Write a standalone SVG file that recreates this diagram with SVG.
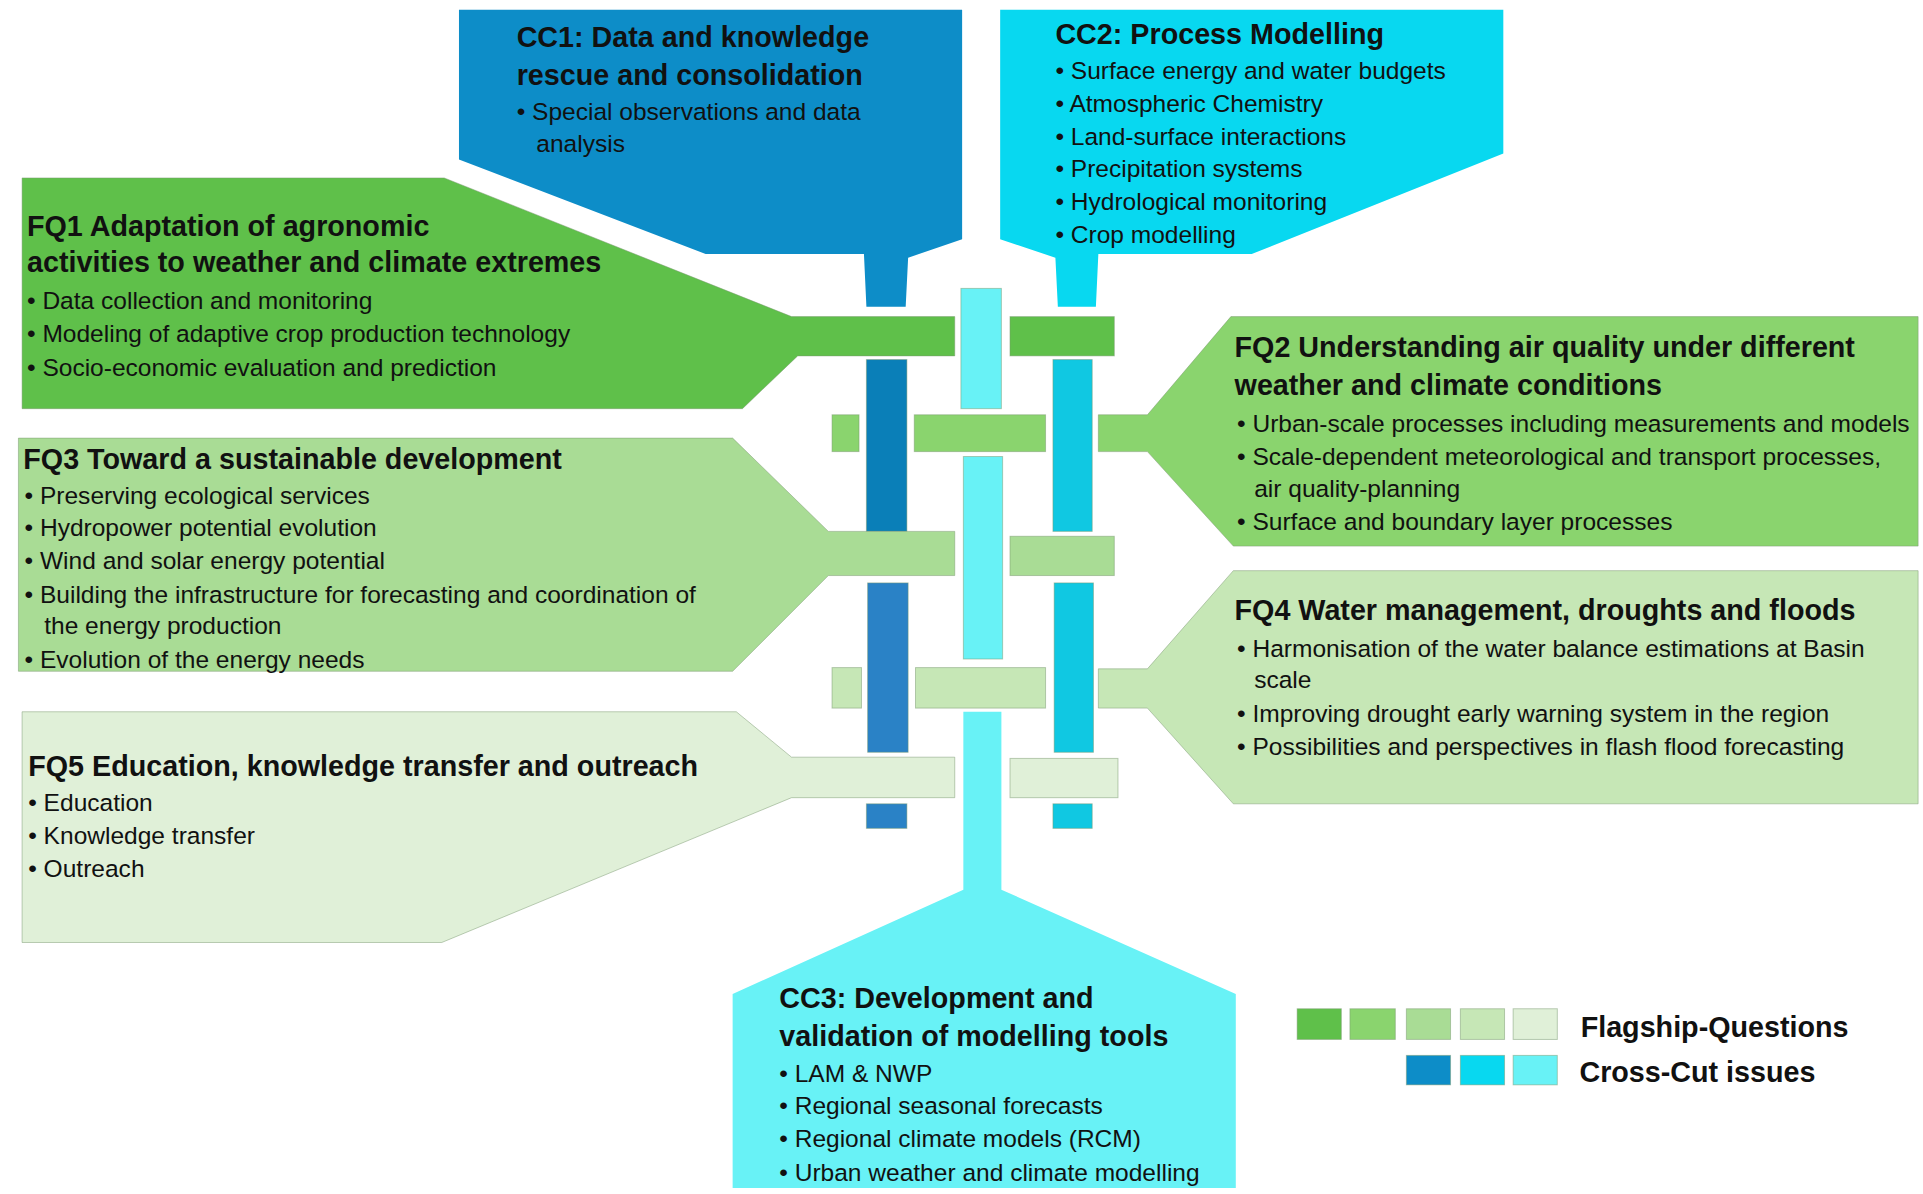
<svg xmlns="http://www.w3.org/2000/svg" width="1923" height="1194" viewBox="0 0 1923 1194">
<style>
text{font-family:"Liberation Sans",Arial,sans-serif;fill:#111}
.h{font-size:23.4px;font-weight:bold}
.b{font-size:20px}
.cc1{fill:#0d8dc8}.cc1d{fill:#0a7fb8}.cc1e{fill:#2a82c6}
.cc2{fill:#08d8f0}.cc2d{fill:#10c8e2}
.cc3{fill:#68f2f6}
.g1{fill:#5fc04a}.g2{fill:#8ad46e}.g3{fill:#a9dc95}.g4{fill:#c6e7b6}.g5{fill:#e0f0d8}
.ed{stroke:#7a9a70;stroke-width:0.8;stroke-opacity:0.5}
</style>
<rect width="1923" height="1194" fill="#fff"/>
<g transform="scale(1.2272)">
<g id="cc3-bars">
<rect class="cc3 ed" x="783" y="235" width="33" height="98"/>
<rect class="cc3 ed" x="785" y="372" width="32" height="165"/>
</g>
<g id="cc1-bars">
<rect class="cc1d ed" x="706" y="293" width="33" height="140"/>
<rect class="cc1e ed" x="707" y="475" width="33" height="138"/>
<rect class="cc1e ed" x="706" y="655" width="33" height="20"/>
</g>
<g id="cc2-bars">
<rect class="cc2d ed" x="858" y="293" width="32" height="140"/>
<rect class="cc2d ed" x="859" y="475" width="32" height="138"/>
<rect class="cc2d ed" x="858" y="655" width="32" height="20"/>
</g>
<g id="CC1">
<polygon class="cc1" points="374,8 784,8 784,195 740,210 738,250 706,250 704,207 575,207 374,130"/>
<text class="h" x="421" y="38">CC1: Data and knowledge</text>
<text class="h" x="421" y="69">rescue and consolidation</text>
<text class="b" x="421" y="98">• Special observations and data</text>
<text class="b" x="437" y="124">analysis</text>
</g>
<g id="CC2">
<polygon class="cc2" points="815,8 1225,8 1225,125 1020,207 895,207 893,250 862,250 860,210 815,195"/>
<text class="h" x="860" y="36">CC2: Process Modelling</text>
<text class="b" x="860" y="64">• Surface energy and water budgets</text>
<text class="b" x="860" y="91">• Atmospheric Chemistry</text>
<text class="b" x="860" y="118">• Land-surface interactions</text>
<text class="b" x="860" y="144">• Precipitation systems</text>
<text class="b" x="860" y="171">• Hydrological monitoring</text>
<text class="b" x="860" y="198">• Crop modelling</text>
</g>
<g id="FQ1">
<polygon class="g1 ed" points="18,145 362,145 645,258 778,258 778,290 650,290 605,333 18,333"/>
<rect class="g1 ed" x="823" y="258" width="85" height="32"/>
<text class="h" x="22" y="192">FQ1 Adaptation of agronomic</text>
<text class="h" x="22" y="222">activities to weather and climate extremes</text>
<text class="b" x="22" y="252">• Data collection and monitoring</text>
<text class="b" x="22" y="279">• Modeling of adaptive crop production technology</text>
<text class="b" x="22" y="306">• Socio-economic evaluation and prediction</text>
</g>
<g id="FQ2">
<polygon class="g2 ed" points="1563,258 1003,258 935,338 895,338 895,368 935,368 1005,445 1563,445"/>
<rect class="g2 ed" x="678" y="338" width="22" height="30"/>
<rect class="g2 ed" x="745" y="338" width="107" height="30"/>
<text class="h" x="1006" y="291">FQ2 Understanding air quality under different</text>
<text class="h" x="1006" y="322">weather and climate conditions</text>
<text class="b" x="1008" y="352">• Urban-scale processes including measurements and models</text>
<text class="b" x="1008" y="379">• Scale-dependent meteorological and transport processes,</text>
<text class="b" x="1022" y="405">air quality-planning</text>
<text class="b" x="1008" y="432">• Surface and boundary layer processes</text>
</g>
<g id="FQ3">
<polygon class="g3 ed" points="15,357 597,357 675,433 778,433 778,469 675,469 597,547 15,547"/>
<rect class="g3 ed" x="823" y="437" width="85" height="32"/>
<text class="h" x="19" y="382">FQ3 Toward a sustainable development</text>
<text class="b" x="20" y="411">• Preserving ecological services</text>
<text class="b" x="20" y="437">• Hydropower potential evolution</text>
<text class="b" x="20" y="464">• Wind and solar energy potential</text>
<text class="b" x="20" y="491">• Building the infrastructure for forecasting and coordination of</text>
<text class="b" x="36" y="517">the energy production</text>
<text class="b" x="20" y="544">• Evolution of the energy needs</text>
</g>
<g id="FQ4">
<polygon class="g4 ed" points="1563,465 1005,465 935,545 895,545 895,577 935,577 1005,655 1563,655"/>
<rect class="g4 ed" x="678" y="544" width="24" height="33"/>
<rect class="g4 ed" x="746" y="544" width="106" height="33"/>
<text class="h" x="1006" y="505">FQ4 Water management, droughts and floods</text>
<text class="b" x="1008" y="535">• Harmonisation of the water balance estimations at Basin</text>
<text class="b" x="1022" y="561">scale</text>
<text class="b" x="1008" y="588">• Improving drought early warning system in the region</text>
<text class="b" x="1008" y="615">• Possibilities and perspectives in flash flood forecasting</text>
</g>
<g id="CC3">
<polygon class="cc3" points="785,580 816,580 816,725 1007,810 1007,968 597,968 597,810 785,725"/>
<text class="h" x="635" y="821">CC3: Development and</text>
<text class="h" x="635" y="852">validation of modelling tools</text>
<text class="b" x="635" y="882">• LAM &amp; NWP</text>
<text class="b" x="635" y="908">• Regional seasonal forecasts</text>
<text class="b" x="635" y="935">• Regional climate models (RCM)</text>
<text class="b" x="635" y="962">• Urban weather and climate modelling</text>
</g>
<g id="FQ5">
<polygon class="g5 ed" points="18,580 600,580 645,617 778,617 778,650 645,650 360,768 18,768"/>
<rect class="g5 ed" x="823" y="618" width="88" height="32"/>
<text class="h" x="23" y="632">FQ5 Education, knowledge transfer and outreach</text>
<text class="b" x="23" y="661">• Education</text>
<text class="b" x="23" y="688">• Knowledge transfer</text>
<text class="b" x="23" y="715">• Outreach</text>
</g>
<g id="legend">
<rect class="g1 ed" x="1057" y="822" width="36" height="25"/>
<rect class="g2 ed" x="1100" y="822" width="37" height="25"/>
<rect class="g3 ed" x="1146" y="822" width="36" height="25"/>
<rect class="g4 ed" x="1190" y="822" width="36" height="25"/>
<rect class="g5 ed" x="1233" y="822" width="36" height="25"/>
<rect class="cc1 ed" x="1146" y="860" width="36" height="24"/>
<rect class="cc2 ed" x="1190" y="860" width="36" height="24"/>
<rect class="cc3 ed" x="1233" y="860" width="36" height="24"/>
<text class="h" x="1288" y="845">Flagship-Questions</text>
<text class="h" x="1287" y="882">Cross-Cut issues</text>
</g>
</g>
</svg>
